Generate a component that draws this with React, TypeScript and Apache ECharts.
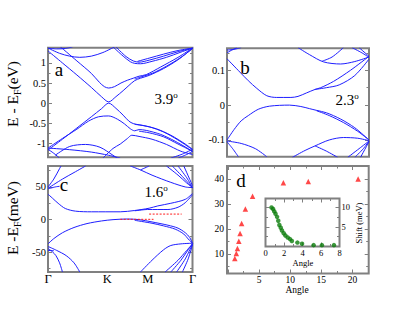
import { useEffect, useRef } from 'react';
import * as echarts from 'echarts';

const SERIF = "'Liberation Serif', 'Times New Roman', serif";
const BLUE = '#1e1eff';
const GRAY = '#808080';
const RED = '#ff1a1a';
const GREEN = '#0b7d0b';

const kLabels = ['Γ', 'K', 'M', 'Γ'];
const kPos = [0, 0.41, 0.69, 1];

// ---- panel a : 3.9°, energy in eV, x = fraction of Γ-K-M-Γ path ----
const aTop1 = [[0, 1.37], [0.08, 1.24], [0.15, 1.17], [0.22, 1.14], [0.3, 1.17], [0.38, 1.26], [0.46, 1.4]];
const aTop2 = [[0, 1.37], [0.06, 1.35], [0.12, 1.36], [0.17, 1.4]];
const aCB1 = [[0, 1.3], [0.1, 1.0], [0.2, 0.7], [0.3, 0.39], [0.37, 0.16], [0.42, 0.03], [0.47, 0.16], [0.52, 0.31], [0.56, 0.44], [0.6, 0.56], [0.64, 0.62], [0.7, 0.69], [0.8, 0.86], [0.9, 1.08], [1, 1.36]];
const aCB2 = [[0.08, 1.42], [0.2, 1.05], [0.3, 0.74], [0.355, 0.52], [0.39, 0.41], [0.42, 0.375], [0.46, 0.41], [0.505, 0.5], [0.55, 0.57], [0.59, 0.62], [0.63, 0.67], [0.68, 0.71], [0.78, 0.9], [0.9, 1.14], [1, 1.37]];
const aCB3 = [[0.6, 0.6], [0.65, 0.66], [0.72, 0.74], [0.82, 0.92], [0.92, 1.14], [1, 1.36]];
const aU1 = [[0.45, 1.4], [0.52, 1.17], [0.57, 1.03], [0.6, 0.99], [0.64, 0.98], [0.72, 1.04], [0.82, 1.14], [0.92, 1.27], [1, 1.37]];
const aU2 = [[0.47, 1.4], [0.54, 1.16], [0.59, 1.05], [0.63, 1.02], [0.7, 1.07], [0.8, 1.17], [0.9, 1.28], [1, 1.37]];
const aU3 = [[0.62, 1.04], [0.7, 1.12], [0.8, 1.22], [0.9, 1.31], [1, 1.37]];
const aVB1 = [[0, -1.17], [0.1, -0.9], [0.2, -0.62], [0.3, -0.34], [0.37, -0.14], [0.42, 0], [0.47, -0.13], [0.52, -0.3], [0.56, -0.45], [0.59, -0.51], [0.63, -0.54], [0.7, -0.59], [0.8, -0.72], [0.9, -0.92], [1, -1.16]];
const aVB2 = [[0, -1.12], [0.1, -0.88], [0.2, -0.65], [0.28, -0.45], [0.35, -0.34], [0.42, -0.32], [0.48, -0.4], [0.53, -0.52], [0.57, -0.64], [0.6, -0.69], [0.63, -0.66], [0.68, -0.68], [0.78, -0.78], [0.88, -0.95], [1, -1.2]];
const aL1 = [[0.6, -0.53], [0.66, -0.56], [0.75, -0.64], [0.85, -0.8], [0.95, -1.02], [1, -1.15]];
const aL2 = [[0.63, -0.7], [0.7, -0.74], [0.8, -0.84], [0.9, -1.02], [1, -1.2]];
const aL3 = [[0.38, -1.37], [0.45, -1.13], [0.5, -1.02], [0.55, -0.88], [0.58, -0.8], [0.63, -0.83], [0.72, -0.9], [0.82, -1.03], [0.92, -1.2], [1, -1.28]];
const aB1 = [[0.05, -1.3], [0.15, -1.08], [0.26, -1.03], [0.36, -1.1], [0.45, -1.3], [0.48, -1.37]];
const aB2 = [[0, -1.12], [0.15, -1.16], [0.3, -1.22], [0.42, -1.3], [0.5, -1.37]];
const aB3 = [[0, -1.15], [0.04, -1.25], [0.08, -1.37]];
const aB4 = [[0.85, -1.37], [0.93, -1.27], [1, -1.15]];
const aB5 = [[0.9, -1.37], [0.96, -1.28], [1, -1.2]];

// ---- panel b : 2.3°, eV ----
const bTL1 = [[0, 0.15], [0.03, 0.157], [0.07, 0.165]];
const bTL2 = [[0, 0.158], [0.05, 0.16], [0.1, 0.165]];
const bCB1 = [[0, 0.133], [0.09, 0.095], [0.15, 0.07], [0.21, 0.048], [0.28, 0.027], [0.35, 0.022], [0.45, 0.022], [0.5, 0.025], [0.56, 0.035], [0.62, 0.045], [0.66, 0.05], [0.75, 0.068], [0.87, 0.1], [1, 0.14]];
const bCB2 = [[0.62, 0.045], [0.7, 0.05], [0.79, 0.058], [0.9, 0.085], [1, 0.132]];
const bTop1 = [[0.5, 0.165], [0.58, 0.145], [0.68, 0.124], [0.8, 0.118], [0.9, 0.125], [1, 0.138]];
const bTop2 = [[0.82, 0.165], [0.74, 0.138], [0.67, 0.126]];
const bTop3 = [[0.88, 0.165], [0.95, 0.15], [1, 0.137]];
const bTop4 = [[0.93, 0.165], [1, 0.14]];
const bVB1 = [[0, -0.1], [0.05, -0.07], [0.1, -0.045], [0.15, -0.03], [0.22, -0.012], [0.3, -0.003], [0.44, 0], [0.52, -0.004], [0.58, -0.01], [0.63, -0.015], [0.7, -0.022], [0.8, -0.04], [0.9, -0.065], [1, -0.1]];
const bVB2 = [[0.63, -0.016], [0.72, -0.03], [0.82, -0.05], [0.92, -0.075], [1, -0.1]];
const bLow1 = [[0, -0.103], [0.1, -0.11], [0.2, -0.125], [0.28, -0.148]];
const bLow2 = [[0, -0.105], [0.04, -0.125], [0.08, -0.148]];
const bLow3 = [[0.46, -0.15], [0.55, -0.13], [0.62, -0.117], [0.72, -0.1], [0.82, -0.093], [0.92, -0.095], [1, -0.102]];
const bLow4 = [[0.62, -0.117], [0.7, -0.132], [0.78, -0.15]];
const bLow5 = [[0.85, -0.15], [0.93, -0.125], [1, -0.103]];
const bLow6 = [[0.9, -0.15], [0.96, -0.125], [1, -0.103]];
const bLow7 = [[0.94, -0.15], [1, -0.105]];

// ---- panel c : 1.6°, meV ----
const cTL1 = [[0, 48], [0.1, 62], [0.18, 72], [0.26, 82]];
const cTL2 = [[0, 50], [0.04, 62], [0.08, 78], [0.09, 82]];
const cTL3 = [[0, 47], [0.05, 50], [0.08, 51]];
const cCB1 = [[0, 39], [0.03, 33], [0.07, 25], [0.12, 17], [0.19, 13], [0.3, 12], [0.4, 12], [0.5, 12], [0.6, 14], [0.7, 17.5], [0.76, 21], [0.85, 25], [0.95, 31], [1, 40]];
const cCB2 = [[0.6, 13.5], [0.69, 15.5], [0.83, 15.5], [0.9, 19], [0.95, 26], [1, 38]];
const cTop1 = [[0.57, 82], [0.64, 76], [0.72, 68], [0.85, 57], [0.95, 50], [1, 49]];
const cTop2 = [[0.64, 76], [0.7, 82]];
const cTop3 = [[0.82, 82], [0.9, 68], [0.96, 56], [1, 49]];
const cTop4 = [[0.86, 82], [0.93, 66], [1, 49]];
const cTop5 = [[0.9, 82], [0.96, 64], [1, 49]];
const cTop6 = [[0.94, 82], [1, 52]];
const cVB1 = [[0, -37], [0.04, -29], [0.1, -20], [0.18, -12], [0.27, -6], [0.37, -2], [0.45, 0], [0.55, 1], [0.63, 0], [0.72, -3.5], [0.83, -8.5], [0.9, -13], [0.95, -20], [0.98, -27], [1, -36]];
const cVB2 = [[0.6, -1], [0.72, -5.5], [0.8, -9.5], [0.88, -14.5], [0.94, -22], [0.97, -29.5], [1, -36]];
const cLow1 = [[0, -41], [0.06, -47], [0.126, -55], [0.18, -66], [0.22, -80]];
const cLow2 = [[0, -44], [0.03, -49], [0.055, -55], [0.08, -66], [0.1, -80]];
const cLow3 = [[0, -47], [0.04, -47.5]];
const cLow4 = [[0.64, -80], [0.72, -62], [0.8, -46], [0.85, -39.5], [0.92, -37], [1, -36]];
const cLow5 = [[0.81, -80], [0.9, -62], [0.96, -47], [1, -37]];
const cLow6 = [[0.85, -80], [0.92, -62], [0.97, -46], [1, -37]];
const cLow7 = [[0.89, -80], [0.95, -60], [1, -37]];
const cLow8 = [[0.93, -80], [0.97, -60], [1, -38]];
const cRed1 = [[0.5, 0.5], [0.73, 0.5]];
const cRed2 = [[0.7, 8.5], [0.925, 8.5]];

// ---- panel d ----
const dAngle = [1.1, 1.35, 1.53, 1.75, 1.95, 2.2, 2.8, 3.95, 8.9, 12.9, 20.9];
const dGap = [8.2, 10.2, 12.2, 15.1, 18.2, 22.2, 28, 33.1, 38.5, 39, 40];
const insetAngle = [0.65, 0.82, 0.95, 1.08, 1.25, 1.38, 1.5, 1.65, 1.78, 1.97, 2.15, 2.4, 2.65, 2.85, 3.45, 3.95, 5.2, 6.1, 7.4];
const insetShift = [10, 9.6, 9.0, 8.4, 7.6, 6.6, 5.5, 4.8, 4.1, 3.4, 2.8, 2.3, 1.9, 1.4, 1.0, 0.7, 0.35, 0.35, 0.35];

const aBands = [aTop1, aTop2, aCB1, aCB2, aCB3, aU1, aU2, aU3, aVB1, aVB2, aL1, aL2, aL3, aB1, aB2, aB3, aB4, aB5];
const bBands = [bTL1, bTL2, bCB1, bCB2, bTop1, bTop2, bTop3, bTop4, bVB1, bVB2, bLow1, bLow2, bLow3, bLow4, bLow5, bLow6, bLow7];
const cBands = [cTL1, cTL2, cTL3, cCB1, cCB2, cTop1, cTop2, cTop3, cTop4, cTop5, cTop6, cVB1, cVB2, cLow1, cLow2, cLow3, cLow4, cLow5, cLow6, cLow7, cLow8];

function bandSeries(bands: number[][][], xi: number, yi: number) {
  return bands.map((b) => ({
    type: 'line', xAxisIndex: xi, yAxisIndex: yi, data: b, showSymbol: false, symbol: 'none',
    smooth: 0.3, clip: true, silent: true, lineStyle: { color: BLUE, width: 1 },
  }));
}

function yAx(grid: number, min: number, max: number, o: any) {
  return {
    type: 'value', gridIndex: grid, min, max, splitNumber: o.split, interval: o.interval,
    position: o.pos || 'left',
    axisLine: { show: false, onZero: false },
    axisTick: { show: true, inside: true, length: 4, lineStyle: { color: GRAY, width: 1 } },
    minorTick: { show: true, splitNumber: 2, length: 2.5, lineStyle: { color: GRAY, width: 1 } },
    splitLine: { show: false }, minorSplitLine: { show: false },
    axisLabel: {
      show: !!o.labels, showMinLabel: !!o.showMin, showMaxLabel: !!o.showMax,
      fontSize: o.fs || 10.5, fontFamily: SERIF, color: '#000', margin: o.margin ?? 2,
      formatter: o.fmt,
    },
  };
}

function xAx(grid: number, min: number, max: number, o: any) {
  const a: any = yAx(grid, min, max, o);
  a.position = o.pos || 'bottom';
  if (o.noTicks) {
    a.axisTick = { show: false };
    a.minorTick = { show: false };
  }
  return a;
}

function title(x: number, y: number, main: string, unit: string) {
  return {
    type: 'text', x, y, rotation: Math.PI / 2, z: 10,
    style: {
      text: `{m|${main}}{s|F}{m|${unit}}`, align: 'center', verticalAlign: 'middle', fill: '#000',
      rich: {
        m: { fontSize: 15.5, fontFamily: SERIF, lineHeight: 20, verticalAlign: 'middle' },
        s: { fontSize: 10, fontFamily: SERIF, lineHeight: 8, verticalAlign: 'bottom' },
      },
    },
  };
}

function deg(x: number, y: number, num: string) {
  return {
    type: 'text', x, y, z: 10,
    style: {
      text: `{n|${num}}{o|o}`, align: 'center', verticalAlign: 'middle', fill: '#000',
      rich: {
        n: { fontSize: 15, fontFamily: SERIF, lineHeight: 18, verticalAlign: 'middle' },
        o: { fontSize: 9, fontFamily: SERIF, lineHeight: 9, verticalAlign: 'top' },
      },
    },
  };
}

function txt(x: number, y: number, s: string, size: number, rot = 0) {
  return {
    type: 'text', x, y, rotation: rot, z: 10,
    style: { text: s, fontSize: size, fontFamily: SERIF, fill: '#000', align: 'center', verticalAlign: 'middle' },
  };
}

export default function App() {
  const ref = useRef<HTMLDivElement>(null);
  useEffect(() => {
    if (!ref.current) return;
    const chart = echarts.init(ref.current, undefined, { renderer: 'svg' });
    const gridStyle = { show: true, borderColor: GRAY, borderWidth: 2, backgroundColor: 'transparent' };
    const option: any = {
      animation: false,
      backgroundColor: '#fff',
      textStyle: { fontFamily: SERIF },
      grid: [
        { ...gridStyle, left: 48, top: 47.7, width: 144.5, height: 109.6 },
        { ...gridStyle, left: 227, top: 48.3, width: 142, height: 108.4 },
        { ...gridStyle, left: 48, top: 166, width: 144.5, height: 106 },
        { ...gridStyle, left: 227, top: 166, width: 141.7, height: 107.5 },
        { ...gridStyle, left: 265.5, top: 198.5, width: 74, height: 48, backgroundColor: '#fff' },
      ],
      xAxis: [
        xAx(0, 0, 1, { noTicks: true }),
        xAx(1, 0, 1, { noTicks: true }),
        xAx(2, 0, 1, {
          noTicks: true, interval: 0.01, labels: true, showMin: true, showMax: true, fs: 12.5, margin: 0,
          fmt: (v: number) => {
            const i = kPos.findIndex((p) => Math.abs(p - v) < 0.004);
            return i >= 0 ? kLabels[i] : '';
          },
        }),
        xAx(3, -0.15, 22.6, { split: 5, labels: true, fs: 9.5, margin: 1, fmt: (v: number) => (v <= 0 ? '' : String(v)) }),
        xAx(3, -0.15, 22.6, { split: 5, pos: 'top' }),
        xAx(4, 0, 8, { interval: 2, labels: true, showMin: true, showMax: true, fs: 8.5, margin: 2 }),
        xAx(4, 0, 8, { interval: 2, pos: 'top' }),
      ],
      yAxis: [
        yAx(0, -1.35, 1.38, { split: 5, labels: true }),
        yAx(0, -1.35, 1.38, { split: 5, pos: 'right' }),
        yAx(1, -0.148, 0.163, { split: 3, labels: true }),
        yAx(1, -0.148, 0.163, { split: 3, pos: 'right' }),
        yAx(2, -80, 82, { split: 3, labels: true }),
        yAx(2, -80, 82, { split: 3, pos: 'right' }),
        yAx(3, 2.2, 45.2, { split: 4, labels: true, fs: 9.5, margin: 3 }),
        yAx(3, 2.2, 45.2, { split: 4, pos: 'right' }),
        yAx(4, 0, 12.3, { interval: 5 }),
        yAx(4, 0, 12.3, { interval: 5, pos: 'right', labels: true, fs: 8.5, margin: 2 }),
      ],
      series: [
        ...bandSeries(aBands, 0, 0),
        ...bandSeries(bBands, 1, 2),
        ...bandSeries(cBands, 2, 4),
        ...[cRed1, cRed2].map((r) => ({
          type: 'line', xAxisIndex: 2, yAxisIndex: 4, data: r, showSymbol: false, symbol: 'none', silent: true,
          lineStyle: { color: RED, width: 1, type: [2, 1.5] }, z: 3,
        })),
        {
          type: 'scatter', xAxisIndex: 3, yAxisIndex: 6, symbol: 'triangle', symbolSize: 5.5,
          itemStyle: { color: RED }, data: dAngle.map((a, i) => [a, dGap[i]]), silent: true,
        },
        {
          type: 'scatter', xAxisIndex: 5, yAxisIndex: 8, symbol: 'circle', symbolSize: 4.5,
          itemStyle: { color: GREEN }, data: insetAngle.map((a, i) => [a, insetShift[i]]), silent: true, z: 5,
        },
      ],
      graphic: [
        txt(59, 69, 'a', 19),
        txt(245, 67, 'b', 19),
        txt(64, 184, 'c', 19),
        txt(241, 180, 'd', 19),
        deg(166, 99, '3.9'),
        deg(347, 100, '2.3'),
        deg(156, 192, '1.6'),
        title(12, 94, 'E - E', '(eV)'),
        title(12, 218, 'E -E', '(meV)'),
        txt(297, 290, 'Angle', 9.5),
        txt(303, 262.5, 'Angle', 8.5),
        txt(359, 223, 'Shift (meV)', 8.5, Math.PI / 2),
      ],
    };
    chart.setOption(option);
    return () => chart.dispose();
  }, []);
  return (
    <div
      ref={ref}
      style={{ position: 'absolute', left: 0, top: 0, width: 415, height: 321, background: '#fff' }}
    />
  );
}
